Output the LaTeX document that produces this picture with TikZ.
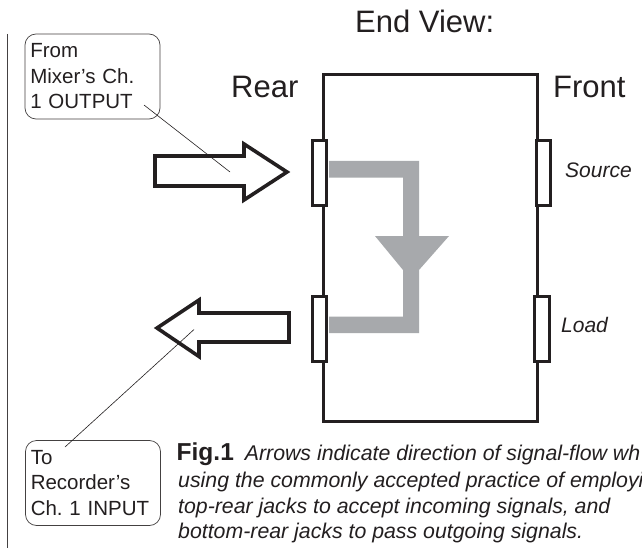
\documentclass[tikz,border=0pt]{standalone}
\usepackage{fontspec}
\setmainfont{Liberation Sans}
\definecolor{ink}{HTML}{231F20}
\definecolor{flow}{HTML}{A7A9AC}
\tikzset{
  outline/.style={draw=ink,line width=3pt,miter limit=10},
  blockarrow/.style={draw=ink,line width=3.6pt,miter limit=10},
  jack/.style={draw=ink,fill=white,line width=3pt,minimum width=14.5pt,minimum height=65pt,inner sep=0pt,outer sep=0pt},
  callout/.style={draw=ink!85,line width=0.7pt,rounded corners=11pt,minimum width=135pt,minimum height=85pt,inner sep=0pt,outer sep=0pt,text width=124.5pt,align=left,font=\fontsize{20.5}{25.5}\selectfont\frenchspacing,text=ink},
  leader/.style={draw=ink,line width=0.6pt},
  heading/.style={anchor=base west,inner sep=0pt,text=ink,font=\fontsize{31}{31}\selectfont},
  jacklabel/.style={anchor=base west,inner sep=0pt,text=ink,font=\fontsize{21}{21}\selectfont\itshape},
  caption/.style={anchor=base west,inner sep=0pt,text=ink,font=\fontsize{21.3}{21.3}\selectfont\itshape\frenchspacing}
}
\begin{document}
\begin{tikzpicture}[x=1pt,y=-1pt]
\useasboundingbox (0,0) rectangle (642,548);
\clip (0,0) rectangle (642,548);
\fill[white] (0,0) rectangle (642,548);
% margin rule
\coordinate (ruletop) at (7.5,34);
\coordinate (rulebot) at (7.5,548);
\draw[ink!85,line width=0.9pt] (ruletop) -- (rulebot);
% housing
\draw[outline] (323.5,75) rectangle (537,421.5);
% signal path
\fill[flow] (329,161) -- (419,161) -- (419,236) -- (449,236) -- (419,270) -- (419,333) -- (329,333) -- (329,316.7) -- (403,316.7) -- (403,270) -- (375,236) -- (403,236) -- (403,177.6) -- (329,177.6) -- cycle;
% jacks
\node[jack] (rt) at (319.7,172.8) {};
\node[jack] (rb) at (319.7,329.3) {};
\node[jack] (ft) at (543.5,172.8) {};
\node[jack] (fb) at (542.2,329.3) {};
% block arrows
\draw[blockarrow] (155,156) -- (244,156) -- (244,144) -- (287,172) -- (244,200) -- (244,186) -- (155,186) -- cycle;
\draw[blockarrow] (157,328) -- (199,300) -- (199,313) -- (289,313) -- (289,342) -- (199,342) -- (199,356.5) -- cycle;
% callouts
\node[callout] (from) at (92.5,76.5) {From\\Mixer{\char39}s Ch.\\1 OUTPUT};
\node[callout] (to) at (93,483) {To\\Recorder{\char39}s\\Ch. 1 INPUT};
\coordinate (fromend) at (144,105);
\coordinate (fromtip) at (230,172);
\coordinate (toend) at (65,447);
\coordinate (totip) at (194,329.5);
\draw[leader] (fromend) -- (fromtip);
\draw[leader] (toend) -- (totip);
% headings
\node[heading] (endview) at (355,33) {End View:};
\node[heading] (rear) at (231,98) {Rear};
\node[heading] (front) at (553,98) {Front};
\node[jacklabel] (source) at (565,178) {Source};
\node[jacklabel] (load) at (561,332) {Load};
% caption
\node[caption] (c1) at (176.5,460) {{\fontsize{24.5}{24.5}\selectfont\bfseries\upshape Fig.1}\hspace{11pt}Arrows indicate direction of signal-flow wh};
\node[caption] (c2) at (178,487) {using the commonly accepted practice of employi};
\node[caption] (c3) at (178,513) {top-rear jacks to accept incoming signals, and};
\node[caption] (c4) at (178,538) {bottom-rear jacks to pass outgoing signals.};
\end{tikzpicture}
\end{document}
